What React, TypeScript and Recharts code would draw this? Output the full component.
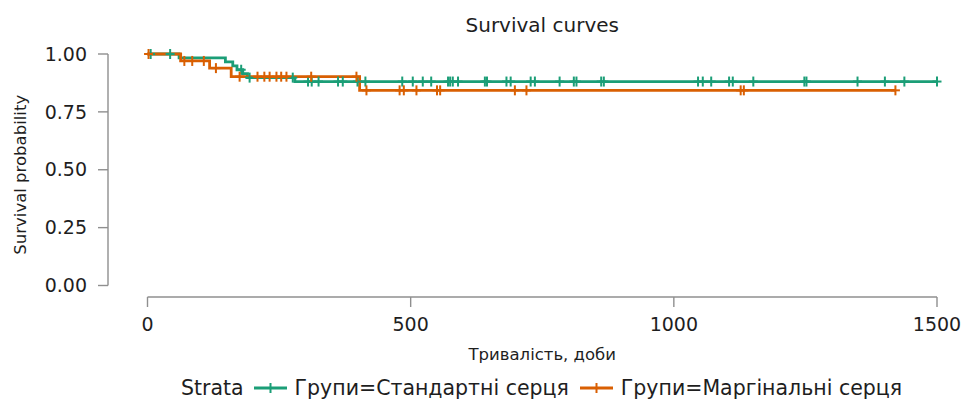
import React from 'react';
import { ComposedChart, Line, XAxis, YAxis, Label } from 'recharts';

// ---------- data ----------
const groupNames = ['Групи=Стандартні серця', 'Групи=Маргінальні серця'];
const xTicks = [0, 500, 1000, 1500];
const yTicks = [0, 0.25, 0.5, 0.75, 1];

// Standard hearts (green)
const standardEventTimes = [0, 60, 148, 162, 170, 181, 190, 280];
const standardSurvival = [1.0, 0.983, 0.966, 0.949, 0.932, 0.915, 0.898, 0.881];
const standardCensorTimes = [
  6, 43, 178, 194, 276, 305, 312, 325, 362, 371, 399, 414, 484, 504, 523, 539,
  571, 575, 580, 590, 641, 645, 682, 690, 728, 736, 783, 810, 815, 862, 867,
  1046, 1055, 1071, 1105, 1112, 1151, 1248, 1252, 1349, 1401, 1438, 1500,
];

// Marginal hearts (orange)
const marginalEventTimes = [0, 63, 118, 159, 403];
const marginalSurvival = [1.0, 0.97, 0.939, 0.902, 0.843];
const marginalCensorTimes = [
  2, 70, 85, 107, 130, 175, 209, 222, 232, 245, 254, 264, 311, 397, 416, 479,
  487, 511, 550, 556, 698, 720, 1127, 1133, 1421,
];

// ---------- styling ----------
const FONT = '"DejaVu Sans", Verdana, sans-serif';
const GREEN = '#1B9E77';
const ORANGE = '#D95F02';
const AXIS_GREY = '#8f8f8f';
const TEXT = '#1e1e1e';
const W = 966;
const H = 409;

const X_DOMAIN = [0, 1500];
const Y_DOMAIN = [0, 1];
const SPACER_DOMAIN = [0, 1];
const AXIS_LINE = { stroke: AXIS_GREY, strokeWidth: 1.4 };
const TICK_LINE = { stroke: AXIS_GREY, strokeWidth: 1.4 };
const TICK_STYLE = { fill: TEXT, fontSize: 19, fontFamily: FONT };
const XLABEL_STYLE = { fill: TEXT, fontSize: 16.5, fontFamily: FONT };

type Pt = { t: number; s: number; c: boolean };

function buildCurve(eventTimes: number[], survival: number[], censorTimes: number[]): Pt[] {
  const survAt = (t: number) => {
    let s = survival[0];
    eventTimes.forEach((et, i) => {
      if (et <= t) s = survival[i];
    });
    return s;
  };
  const pts: Pt[] = eventTimes.map((t, i) => ({ t, s: survival[i], c: false }));
  censorTimes.forEach((t) => pts.push({ t, s: survAt(t), c: true }));
  pts.sort((a, b) => a.t - b.t || (a.c ? 1 : 0) - (b.c ? 1 : 0));
  return pts;
}

const standardCurve = buildCurve(standardEventTimes, standardSurvival, standardCensorTimes);
const marginalCurve = buildCurve(marginalEventTimes, marginalSurvival, marginalCensorTimes);

const makePlus = (color: string) => (props: any) => {
  const { cx, cy, payload, index } = props;
  if (!payload || !payload.c || cx == null || cy == null) return <g key={`n${index}`} />;
  return (
    <g key={`p${index}`}>
      <line x1={cx} x2={cx} y1={cy - 5} y2={cy + 5} stroke={color} strokeWidth={2} />
      <line x1={cx - 4.5} x2={cx + 4.5} y1={cy} y2={cy} stroke={color} strokeWidth={2} />
    </g>
  );
};
const greenPlus = makePlus(GREEN);
const orangePlus = makePlus(ORANGE);

const fmt2 = (v: number) => v.toFixed(2);

const YTitle = (props: any) => {
  const vb = props.viewBox || { x: 28, y: 54, width: 80, height: 231 };
  const cx = vb.x - 8;
  const cy = vb.y + vb.height / 2 + 5;
  return (
    <text
      x={cx}
      y={cy}
      transform={`rotate(-90 ${cx} ${cy})`}
      textAnchor="middle"
      dominantBaseline="central"
      fontSize={16.5}
      fontFamily={FONT}
      fill={TEXT}
    >
      Survival probability
    </text>
  );
};

const LegendKey = ({ color }: { color: string }) => (
  <svg width={33} height={14} style={{ display: 'block' }}>
    <line x1={0} x2={33} y1={7} y2={7} stroke={color} strokeWidth={2.8} />
    <line x1={16.5} x2={16.5} y1={2} y2={12} stroke={color} strokeWidth={2} />
  </svg>
);

export default function App() {
  return (
    <div
      style={{
        position: 'absolute',
        left: 0,
        top: 0,
        width: W,
        height: H,
        background: '#ffffff',
        fontFamily: FONT,
        overflow: 'hidden',
      }}
    >
      <div
        style={{
          position: 'absolute',
          left: 147.5,
          width: 789.5,
          top: 15,
          textAlign: 'center',
          fontSize: 20,
          lineHeight: '20px',
          color: TEXT,
          whiteSpace: 'nowrap',
        }}
      >
        Survival curves
      </div>

      <ComposedChart width={W} height={H} margin={{ top: 54, right: 29, bottom: 37, left: 28 }}>
        <XAxis
          xAxisId="axB"
          type="number"
          dataKey="t"
          domain={X_DOMAIN}
          ticks={xTicks}
          interval={0}
          height={75}
          tickSize={10}
          tickMargin={11}
          axisLine={AXIS_LINE}
          tickLine={TICK_LINE}
          tick={TICK_STYLE}
        >
          <Label value="Тривалість, доби" position="insideBottom" offset={12} style={XLABEL_STYLE} />
        </XAxis>
        <YAxis
          yAxisId="axB"
          type="number"
          dataKey="s"
          domain={Y_DOMAIN}
          ticks={yTicks}
          interval={0}
          tickFormatter={fmt2}
          width={80}
          tickSize={10}
          tickMargin={11}
          axisLine={AXIS_LINE}
          tickLine={TICK_LINE}
          tick={TICK_STYLE}
        >
          <Label content={YTitle} />
        </YAxis>
        {/* spacer axes keep the axis lines away from the data panel */}
        <XAxis
          xAxisId="axA"
          type="number"
          domain={SPACER_DOMAIN}
          height={11.5}
          axisLine={false}
          tickLine={false}
          tick={false}
        />
        <YAxis
          yAxisId="axA"
          type="number"
          domain={SPACER_DOMAIN}
          width={39.5}
          axisLine={false}
          tickLine={false}
          tick={false}
        />

        <Line
          xAxisId="axB"
          yAxisId="axB"
          data={standardCurve}
          dataKey="s"
          name={groupNames[0]}
          type="stepAfter"
          stroke={GREEN}
          strokeWidth={2.8}
          dot={greenPlus}
          activeDot={false}
          isAnimationActive={false}
        />
        <Line
          xAxisId="axB"
          yAxisId="axB"
          data={marginalCurve}
          dataKey="s"
          name={groupNames[1]}
          type="stepAfter"
          stroke={ORANGE}
          strokeWidth={2.8}
          dot={orangePlus}
          activeDot={false}
          isAnimationActive={false}
        />
      </ComposedChart>

      <div
        style={{
          position: 'absolute',
          left: 120,
          width: 843,
          top: 378,
          display: 'flex',
          justifyContent: 'center',
          alignItems: 'center',
          fontSize: 20.5,
          lineHeight: '20.5px',
          color: TEXT,
          whiteSpace: 'nowrap',
        }}
      >
        <span style={{ marginRight: 10 }}>Strata</span>
        <span style={{ marginRight: 8 }}>
          <LegendKey color={GREEN} />
        </span>
        <span style={{ marginRight: 11 }}>{groupNames[0]}</span>
        <span style={{ marginRight: 8 }}>
          <LegendKey color={ORANGE} />
        </span>
        <span>{groupNames[1]}</span>
      </div>
    </div>
  );
}
